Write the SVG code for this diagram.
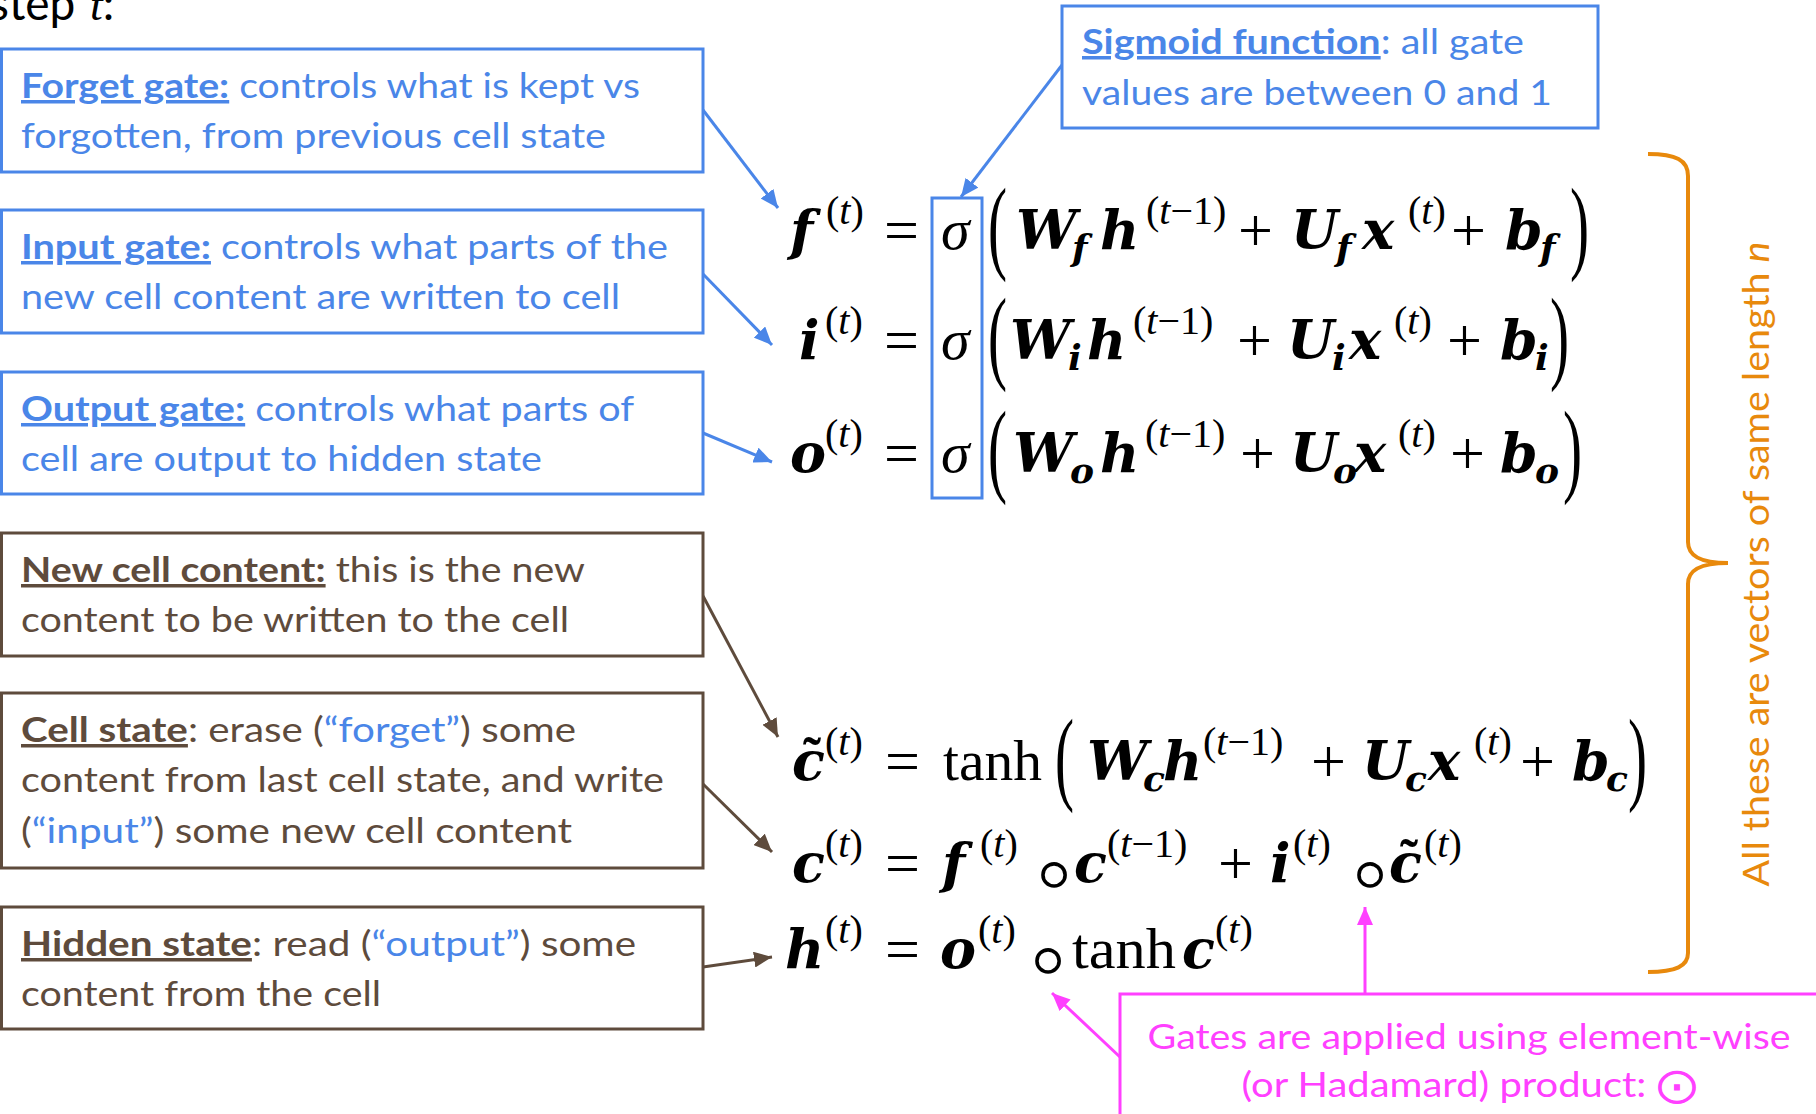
<svg xmlns="http://www.w3.org/2000/svg" width="1816" height="1114" viewBox="0 0 1816 1114">
<style>
.bb{fill:#fff;stroke:#4a86e8;stroke-width:3}
.bw{fill:#fff;stroke:#5e4b3c;stroke-width:3}
.t{font-family:Lato,"Open Sans","Liberation Sans",sans-serif;font-size:35px}
.blue{fill:#4a86e8}
.brown{fill:#5e4b3c}
.pink{fill:#ff40ff}
.orange{fill:#e8890c}
.h{font-weight:bold;text-decoration:underline}
.m{font-family:"Liberation Serif","DejaVu Serif",serif;font-size:52px;fill:#000}
.bi{font-family:"DejaVu Serif",serif;font-weight:bold;font-style:italic;font-size:54px}
.it{font-style:italic}
.sg{font-style:italic;font-size:58px}
.sup{font-family:"Liberation Serif",serif;font-size:40px;font-weight:normal;font-style:normal}
.sub{font-size:36px}
.op{font-size:62px}
.fn{font-size:58px}
.tl{font-family:"Liberation Serif",serif;font-weight:bold;font-size:54px}
.ring{font-family:"DejaVu Sans",sans-serif;font-size:96px;font-weight:200}
.par{font-family:"Liberation Serif",serif;font-size:104px;fill:#000}
.cb{fill:none;stroke-width:3}
</style>
<defs>
<marker id="ab" markerUnits="userSpaceOnUse" markerWidth="20" markerHeight="16" refX="18" refY="8" orient="auto"><path d="M0,0 L18,8 L0,16 z" fill="#4a86e8"/></marker>
<marker id="aw" markerUnits="userSpaceOnUse" markerWidth="20" markerHeight="16" refX="18" refY="8" orient="auto"><path d="M0,0 L18,8 L0,16 z" fill="#5e4b3c"/></marker>
<marker id="ap" markerUnits="userSpaceOnUse" markerWidth="20" markerHeight="16" refX="18" refY="8" orient="auto"><path d="M0,0 L18,8 L0,16 z" fill="#ff40ff"/></marker>
</defs>

<text x="-11" y="20" style="font-family:Lato,sans-serif;font-size:46px;fill:#000">step <tspan x="90" style="font-family:'Liberation Serif',serif;font-style:italic">t</tspan>:</text>

<g id="connectors">
<line class="cb" stroke="#4a86e8" x1="703" y1="110" x2="778" y2="208" marker-end="url(#ab)"/>
<line class="cb" stroke="#4a86e8" x1="703" y1="274" x2="772" y2="345" marker-end="url(#ab)"/>
<line class="cb" stroke="#4a86e8" x1="703" y1="433" x2="772" y2="462" marker-end="url(#ab)"/>
<line class="cb" stroke="#4a86e8" x1="1062" y1="65" x2="961" y2="197" marker-end="url(#ab)"/>
<line class="cb" stroke="#5e4b3c" x1="703" y1="596" x2="778" y2="737" marker-end="url(#aw)"/>
<line class="cb" stroke="#5e4b3c" x1="703" y1="784" x2="772" y2="852" marker-end="url(#aw)"/>
<line class="cb" stroke="#5e4b3c" x1="703" y1="967" x2="772" y2="957" marker-end="url(#aw)"/>
<line class="cb" stroke="#ff40ff" x1="1120" y1="1057" x2="1052" y2="993" marker-end="url(#ap)"/>
<line class="cb" stroke="#ff40ff" x1="1365" y1="994" x2="1365" y2="907" marker-end="url(#ap)"/>
</g>

<g id="forget-gate">
<rect class="bb" x="1.5" y="49" width="701.5" height="123"/>
<text class="t blue" x="21" y="98" textLength="619" lengthAdjust="spacingAndGlyphs"><tspan class="h">Forget gate:</tspan> controls what is kept vs</text>
<text class="t blue" x="21" y="148" textLength="585" lengthAdjust="spacingAndGlyphs">forgotten, from previous cell state</text>
</g>

<g id="input-gate">
<rect class="bb" x="1.5" y="210" width="701.5" height="123"/>
<text class="t blue" x="21" y="259" textLength="647" lengthAdjust="spacingAndGlyphs"><tspan class="h">Input gate:</tspan> controls what parts of the</text>
<text class="t blue" x="21" y="309" textLength="599" lengthAdjust="spacingAndGlyphs">new cell content are written to cell</text>
</g>

<g id="output-gate">
<rect class="bb" x="1.5" y="372" width="701.5" height="122"/>
<text class="t blue" x="21" y="421" textLength="613" lengthAdjust="spacingAndGlyphs"><tspan class="h">Output gate:</tspan> controls what parts of</text>
<text class="t blue" x="21" y="471" textLength="521" lengthAdjust="spacingAndGlyphs">cell are output to hidden state</text>
</g>

<g id="new-cell-content">
<rect class="bw" x="1.5" y="533" width="701.5" height="123"/>
<text class="t brown" x="21" y="582" textLength="564" lengthAdjust="spacingAndGlyphs"><tspan class="h">New cell content:</tspan> this is the new</text>
<text class="t brown" x="21" y="632" textLength="548" lengthAdjust="spacingAndGlyphs">content to be written to the cell</text>
</g>

<g id="cell-state">
<rect class="bw" x="1.5" y="693" width="701.5" height="175"/>
<text class="t brown" x="21" y="742" textLength="555" lengthAdjust="spacingAndGlyphs"><tspan class="h">Cell state</tspan>: erase (<tspan class="blue">“forget”</tspan>) some</text>
<text class="t brown" x="21" y="792" textLength="643" lengthAdjust="spacingAndGlyphs">content from last cell state, and write</text>
<text class="t brown" x="21" y="843" textLength="551" lengthAdjust="spacingAndGlyphs">(<tspan class="blue">“input”</tspan>) some new cell content</text>
</g>

<g id="hidden-state">
<rect class="bw" x="1.5" y="907" width="701.5" height="122"/>
<text class="t brown" x="21" y="956" textLength="615" lengthAdjust="spacingAndGlyphs"><tspan class="h">Hidden state</tspan>: read (<tspan class="blue">“output”</tspan>) some</text>
<text class="t brown" x="21" y="1006" textLength="360" lengthAdjust="spacingAndGlyphs">content from the cell</text>
</g>

<g id="sigmoid-function">
<rect class="bb" x="1062" y="6" width="536" height="122"/>
<text class="t blue" x="1082" y="54" textLength="442" lengthAdjust="spacingAndGlyphs"><tspan class="h">Sigmoid function</tspan>: all gate</text>
<text class="t blue" x="1082" y="105" textLength="470" lengthAdjust="spacingAndGlyphs">values are between 0 and 1</text>
</g>

<g id="sigma-box">
<rect x="932" y="198" width="50" height="300" fill="none" stroke="#4a86e8" stroke-width="3"/>
</g>

<g id="eq-forget">
<text class="m"><tspan class="bi" x="790" y="249">f</tspan><tspan class="sup" x="826" y="224">(<tspan class="it">t</tspan>)</tspan><tspan class="op" x="884" y="251">=</tspan><tspan class="sg" x="941" y="249">σ</tspan><tspan class="bi" x="1016" y="249">W</tspan><tspan class="bi sub" x="1072" y="260">f</tspan><tspan class="bi" x="1100" y="249">h</tspan><tspan class="sup" x="1146" y="224">(<tspan class="it">t</tspan>−1)</tspan><tspan class="op" x="1238" y="251">+</tspan><tspan class="bi" x="1291" y="249">U</tspan><tspan class="bi sub" x="1336" y="260">f</tspan><tspan class="bi" x="1362" y="249">x</tspan><tspan class="sup" x="1408" y="224">(<tspan class="it">t</tspan>)</tspan><tspan class="op" x="1451" y="251">+</tspan><tspan class="bi" x="1505" y="249">b</tspan><tspan class="bi sub" x="1540" y="260">f</tspan></text>
<text class="par" transform="translate(988,260) scale(0.55,1)">(</text>
<text class="par" transform="translate(1570,260) scale(0.55,1)">)</text>
</g>

<g id="eq-input">
<text class="m"><tspan class="bi" x="799" y="359">i</tspan><tspan class="sup" x="825" y="334">(<tspan class="it">t</tspan>)</tspan><tspan class="op" x="884" y="361">=</tspan><tspan class="sg" x="941" y="359">σ</tspan><tspan class="bi" x="1010" y="359">W</tspan><tspan class="bi sub" x="1068" y="370">i</tspan><tspan class="bi" x="1087" y="359">h</tspan><tspan class="sup" x="1133" y="334">(<tspan class="it">t</tspan>−1)</tspan><tspan class="op" x="1237" y="361">+</tspan><tspan class="bi" x="1287" y="359">U</tspan><tspan class="bi sub" x="1332" y="370">i</tspan><tspan class="bi" x="1349" y="359">x</tspan><tspan class="sup" x="1394" y="334">(<tspan class="it">t</tspan>)</tspan><tspan class="op" x="1447" y="361">+</tspan><tspan class="bi" x="1500" y="359">b</tspan><tspan class="bi sub" x="1535" y="370">i</tspan></text>
<text class="par" transform="translate(988,370) scale(0.55,1)">(</text>
<text class="par" transform="translate(1550,370) scale(0.55,1)">)</text>
</g>

<g id="eq-output">
<text class="m"><tspan class="bi" x="790" y="472">o</tspan><tspan class="sup" x="825" y="447">(<tspan class="it">t</tspan>)</tspan><tspan class="op" x="884" y="474">=</tspan><tspan class="sg" x="941" y="472">σ</tspan><tspan class="bi" x="1013" y="472">W</tspan><tspan class="bi sub" x="1070" y="483">o</tspan><tspan class="bi" x="1100" y="472">h</tspan><tspan class="sup" x="1145" y="447">(<tspan class="it">t</tspan>−1)</tspan><tspan class="op" x="1240" y="474">+</tspan><tspan class="bi" x="1290" y="472">U</tspan><tspan class="bi sub" x="1333" y="483">o</tspan><tspan class="bi" x="1354" y="472">x</tspan><tspan class="sup" x="1398" y="447">(<tspan class="it">t</tspan>)</tspan><tspan class="op" x="1450" y="474">+</tspan><tspan class="bi" x="1500" y="472">b</tspan><tspan class="bi sub" x="1535" y="483">o</tspan></text>
<text class="par" transform="translate(988,483) scale(0.55,1)">(</text>
<text class="par" transform="translate(1563,483) scale(0.55,1)">)</text>
</g>

<g id="eq-new-cell">
<text class="m"><tspan class="bi" x="792" y="780">c</tspan><tspan class="tl" x="803" y="775">˜</tspan><tspan class="sup" x="825" y="755">(<tspan class="it">t</tspan>)</tspan><tspan class="op" x="885" y="782">=</tspan><tspan class="fn" x="943" y="780" textLength="99" lengthAdjust="spacingAndGlyphs">tanh</tspan><tspan class="bi" x="1087" y="780">W</tspan><tspan class="bi sub" x="1143" y="791">c</tspan><tspan class="bi" x="1163" y="780">h</tspan><tspan class="sup" x="1203" y="755">(<tspan class="it">t</tspan>−1)</tspan><tspan class="op" x="1311" y="782">+</tspan><tspan class="bi" x="1362" y="780">U</tspan><tspan class="bi sub" x="1405" y="791">c</tspan><tspan class="bi" x="1428" y="780">x</tspan><tspan class="sup" x="1474" y="755">(<tspan class="it">t</tspan>)</tspan><tspan class="op" x="1520" y="782">+</tspan><tspan class="bi" x="1572" y="780">b</tspan><tspan class="bi sub" x="1606" y="791">c</tspan></text>
<text class="par" transform="translate(1055,791) scale(0.55,1)">(</text>
<text class="par" transform="translate(1628,791) scale(0.55,1)">)</text>
</g>

<g id="eq-cell">
<text class="m"><tspan class="bi" x="792" y="882">c</tspan><tspan class="sup" x="825" y="857">(<tspan class="it">t</tspan>)</tspan><tspan class="op" x="885" y="884">=</tspan><tspan class="bi" x="942" y="882">f</tspan><tspan class="sup" x="980" y="857">(<tspan class="it">t</tspan>)</tspan><tspan class="ring" x="1024" y="905">∘</tspan><tspan class="bi" x="1074" y="882">c</tspan><tspan class="sup" x="1107" y="857">(<tspan class="it">t</tspan>−1)</tspan><tspan class="op" x="1218" y="884">+</tspan><tspan class="bi" x="1270" y="882">i</tspan><tspan class="sup" x="1293" y="857">(<tspan class="it">t</tspan>)</tspan><tspan class="ring" x="1340" y="905">∘</tspan><tspan class="bi" x="1389" y="882">c</tspan><tspan class="tl" x="1400" y="877">˜</tspan><tspan class="sup" x="1424" y="857">(<tspan class="it">t</tspan>)</tspan></text>
</g>

<g id="eq-hidden">
<text class="m"><tspan class="bi" x="785" y="968">h</tspan><tspan class="sup" x="825" y="943">(<tspan class="it">t</tspan>)</tspan><tspan class="op" x="885" y="970">=</tspan><tspan class="bi" x="940" y="968">o</tspan><tspan class="sup" x="978" y="943">(<tspan class="it">t</tspan>)</tspan><tspan class="ring" x="1018" y="991">∘</tspan><tspan class="fn" x="1072" y="968" textLength="104" lengthAdjust="spacingAndGlyphs">tanh</tspan><tspan class="bi" x="1182" y="968">c</tspan><tspan class="sup" x="1215" y="943">(<tspan class="it">t</tspan>)</tspan></text>
</g>

<g id="vector-length-brace">
<path d="M1648,154 C1676,154 1688,160 1688,176 L1688,542 C1688,556 1700,563 1728,563 C1700,563 1688,570 1688,584 L1688,953 C1688,966 1676,972 1648,972" fill="none" stroke="#e8890c" stroke-width="4"/>
<text class="t orange" style="font-size:37px" text-anchor="middle" transform="translate(1769,564) rotate(-90)" textLength="645" lengthAdjust="spacingAndGlyphs">All these are vectors of same length <tspan font-style="italic">n</tspan></text>
</g>

<g id="hadamard-note">
<rect x="1120" y="994" width="720" height="140" fill="#fff" stroke="#ff40ff" stroke-width="3"/>
<text class="t pink" x="1469" y="1049" text-anchor="middle" textLength="643" lengthAdjust="spacingAndGlyphs">Gates are applied using element-wise</text>
<text class="t pink" x="1469" y="1097" text-anchor="middle" textLength="455" lengthAdjust="spacingAndGlyphs">(or Hadamard) product: ⨀</text>
</g>
</svg>
